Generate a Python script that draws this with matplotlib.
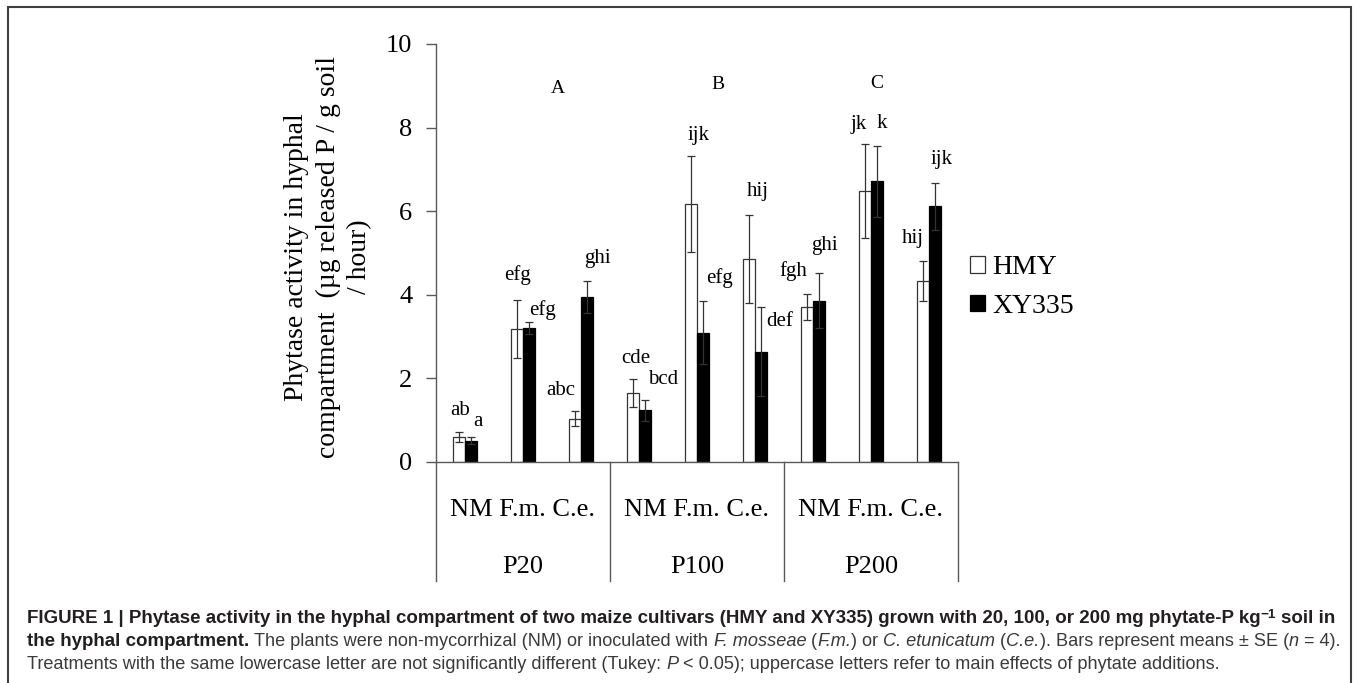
import matplotlib.pyplot as plt
import numpy as np
from matplotlib.patches import Rectangle

plt.rcParams["font.family"] = "Liberation Serif"

groups = ["P20", "P100", "P200"]
treatments = ["NM", "F.m.", "C.e."]

# means and SE, order: P20 NM/Fm/Ce, P100 NM/Fm/Ce, P200 NM/Fm/Ce
hmy = [0.60, 3.18, 1.04, 1.65, 6.17, 4.86, 3.71, 6.48, 4.33]
hmy_se = [0.11, 0.69, 0.18, 0.34, 1.15, 1.06, 0.31, 1.12, 0.48]
xy335 = [0.51, 3.20, 3.95, 1.24, 3.09, 2.64, 3.86, 6.72, 6.12]
xy335_se = [0.08, 0.14, 0.38, 0.25, 0.75, 1.07, 0.65, 0.85, 0.56]

hmy_letters = ["ab", "efg", "abc", "cde", "ijk", "hij", "fgh", "jk", "hij"]
xy335_letters = ["a", "efg", "ghi", "bcd", "efg", "def", "ghi", "k", "ijk"]
main_letters = ["A", "B", "C"]

# label offsets (points) from the error bar tops
hmy_offsets = [(1, 15.6), (0.5, 18), (-10.3, 14.9), (1.9, 14.4), (5, 14.9),
               (6.5, 16.6), (-10.1, 16.8), (-5, 14), (-7.2, 16.3)]
xy335_offsets = [(5, 11.2), (10.1, 8.9), (7.9, 16.3), (13.3, 14.4), (11.9, 17.1),
                 (13.3, -10.6), (4, 19.9), (3.6, 15.6), (5, 16.8)]
main_pos = [(1.60, 8.93), (4.36, 9.02), (7.10, 9.05)]

fig = plt.figure(figsize=(13.6, 6.83), dpi=100)
ax = fig.add_axes([436 / 1360, 1 - 462 / 683, 522 / 1360, 418 / 683])

x = np.arange(len(hmy))
w = 0.2
axis_col = "#595959"

b1 = ax.bar(x - w / 2, hmy, w, color="white", edgecolor="#333333", linewidth=0.9,
            yerr=hmy_se, error_kw=dict(ecolor="#333333", elinewidth=0.9, capsize=3, capthick=0.9),
            label="HMY")
b2 = ax.bar(x + w / 2, xy335, w, color="black", edgecolor="black", linewidth=0.9,
            yerr=xy335_se, error_kw=dict(ecolor="#333333", elinewidth=0.9, capsize=3, capthick=0.9),
            label="XY335")

for i in range(len(hmy)):
    ax.annotate(hmy_letters[i], (x[i] - w / 2, hmy[i] + hmy_se[i]),
                xytext=hmy_offsets[i], textcoords="offset points",
                ha="center", va="center", fontsize=15)
    ax.annotate(xy335_letters[i], (x[i] + w / 2, xy335[i] + xy335_se[i]),
                xytext=xy335_offsets[i], textcoords="offset points",
                ha="center", va="center", fontsize=15)

for lab, (px, py) in zip(main_letters, main_pos):
    ax.text(px, py, lab, ha="center", va="center", fontsize=14)

ax.set_xlim(-0.5, 8.5)
ax.set_ylim(0, 10)
ax.set_yticks(np.arange(0, 11, 2))
ax.tick_params(axis="y", direction="out", length=7, width=1, color=axis_col,
               labelsize=19, pad=10)
ax.set_xticks([])
for s in ["top", "right"]:
    ax.spines[s].set_visible(False)
for s in ["left", "bottom"]:
    ax.spines[s].set_color(axis_col)
    ax.spines[s].set_linewidth(1)

# group / treatment labels under the axis
trans = ax.get_xaxis_transform()
for g, name in enumerate(groups):
    xc = g * 3 + 1
    ax.text(xc, -0.115, " ".join(treatments), transform=trans,
            ha="center", va="center", fontsize=19)
    ax.text(xc, -0.251, name, transform=trans, ha="center", va="center", fontsize=19)
for xd in [-0.5, 2.5, 5.5, 8.5]:
    ax.plot([xd, xd], [0, -0.285], transform=trans, color=axis_col, lw=1, clip_on=False)

fig.text(328 / 1360, 1 - 257 / 683,
         "Phytase activity in hyphal\ncompartment  (\u00b5g released P / g soil\n/ hour)",
         rotation=90, ha="center", va="center", fontsize=20, linespacing=1.35,
         multialignment="center")

fig.legend(handles=[b1, b2], loc="center left", bbox_to_anchor=(970 / 1360, 1 - 287 / 683),
           frameon=False, fontsize=20, handlelength=0.55, handleheight=0.55,
           handletextpad=0.25, labelspacing=0.5, borderpad=0, borderaxespad=0)

# outer frame
fig.add_artist(Rectangle((8 / 1360, -0.1), 1343 / 1360, 1.1 - 7 / 683,
                         transform=fig.transFigure, fill=False,
                         edgecolor="#404040", lw=1.5))

# caption
renderer = fig.canvas.get_renderer()
dark = "#231f20"
grey = "#3a3a3a"


def seg_width(txt, size, **kw):
    t1 = fig.text(0, 0, txt + "|", fontsize=size, family="Liberation Sans", **kw)
    t2 = fig.text(0, 0, "|", fontsize=size, family="Liberation Sans", **kw)
    wd = t1.get_window_extent(renderer).width - t2.get_window_extent(renderer).width
    t1.remove()
    t2.remove()
    return wd


def draw_line(x0, y0, parts, bold_size, norm_size):
    xp = x0 * 1360
    for txt, weight, style, rise, scale in parts:
        size = (bold_size if weight == "bold" else norm_size) * scale
        if txt.strip():
            fig.text(xp / 1360, y0 + rise / 683, txt, fontsize=size,
                     family="Liberation Sans", fontweight=weight, fontstyle=style,
                     color=dark if weight == "bold" else grey, va="baseline")
        xp += seg_width(txt, size, fontweight=weight, fontstyle=style)
    return xp


B, N = "bold", "normal"
line1 = [("FIGURE 1 | Phytase activity in the hyphal compartment of two maize cultivars "
          "(HMY and XY335) grown with 20, 100, or 200 mg phytate-P kg", B, N, 0, 1),
         ("\u22121", B, N, 5, 0.72), (" ", B, N, 0, 1), ("soil in", B, N, 0, 1)]
line2 = [("the hyphal compartment. ", B, N, 0, 1),
         ("The plants were non-mycorrhizal (NM) or inoculated with ", N, N, 0, 1),
         ("F. mosseae", N, "italic", 0, 1), (" (", N, N, 0, 1), ("F.m.", N, "italic", 0, 1),
         (") or ", N, N, 0, 1), ("C. etunicatum", N, "italic", 0, 1), (" (", N, N, 0, 1),
         ("C.e.", N, "italic", 0, 1), ("). Bars represent means \u00b1 SE (", N, N, 0, 1),
         ("n", N, "italic", 0, 1), (" = 4).", N, N, 0, 1)]
line3 = [("Treatments with the same lowercase letter are not significantly different (Tukey: ",
          N, N, 0, 1), ("P", N, "italic", 0, 1),
         (" < 0.05); uppercase letters refer to main effects of phytate additions.", N, N, 0, 1)]

# fit caption lines to their widths in the original
base = 10
w1 = sum(seg_width(t, base * sc, fontweight=wt, fontstyle=st) for t, wt, st, r, sc in line1)
w3 = sum(seg_width(t, base * sc, fontweight=wt, fontstyle=st) for t, wt, st, r, sc in line3)
bold_size = base * 1310 / w1
norm_size = base * 1198 / w3

draw_line(27 / 1360, 1 - 623 / 683, line1, bold_size, norm_size)
draw_line(27 / 1360, 1 - 646 / 683, line2, bold_size, norm_size)
draw_line(27 / 1360, 1 - 669 / 683, line3, bold_size, norm_size)

fig.savefig("out.png", dpi=100)
